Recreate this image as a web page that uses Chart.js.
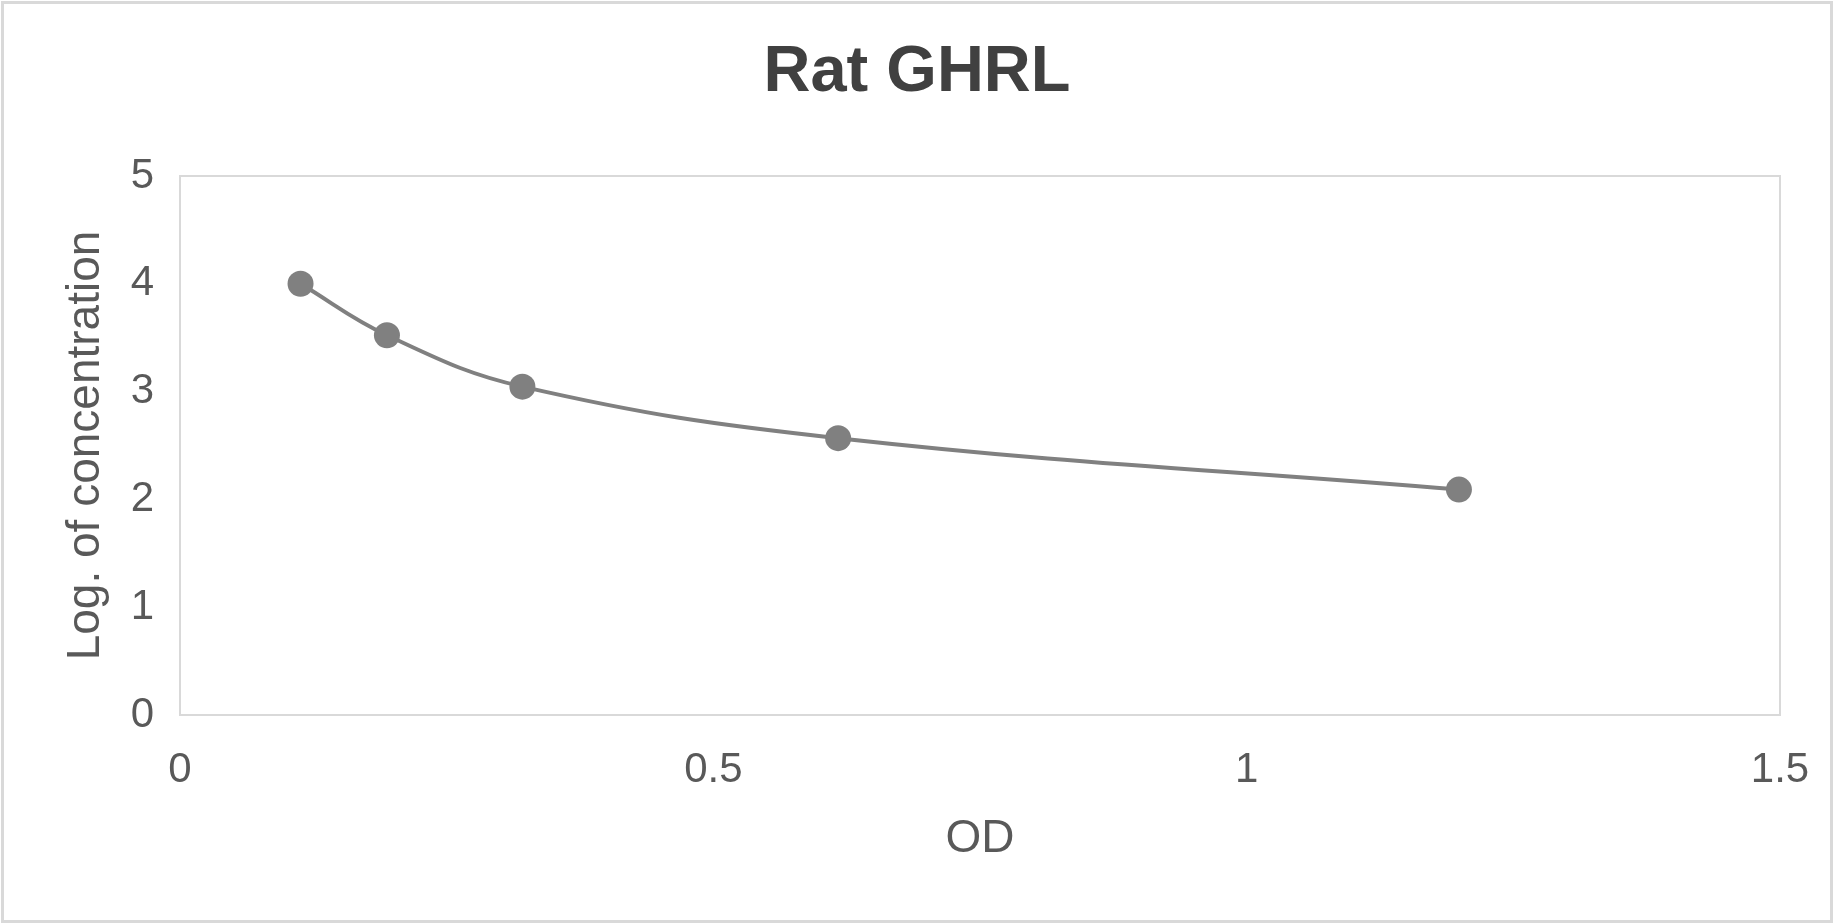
<!DOCTYPE html>
<html>
<head>
<meta charset="utf-8">
<script src="https://cdn.jsdelivr.net/npm/chart.js@4/dist/chart.umd.min.js"></script>
<style>
  html, body { margin: 0; padding: 0; background: #ffffff; }
  #wrap { width: 1834px; height: 924px; position: relative; }
</style>
</head>
<body>
<div id="wrap"><canvas id="c" width="1834" height="924"></canvas></div>
<script>
const chartTitle = "Rat GHRL";
const xAxisTitle = "OD";
const yAxisTitle = "Log. of concentration";
const odValues = [0.113, 0.194, 0.321, 0.617, 1.199];
const logConc = [4.000, 3.523, 3.046, 2.568, 2.091];
const xTicks = [0, 0.5, 1, 1.5];
const yTicks = [0, 1, 2, 3, 4, 5];

const points = odValues.map((x, i) => ({ x: x, y: logConc[i] }));

const frame = {
  id: 'frame',
  beforeDraw(chart) {
    const ctx = chart.ctx;
    ctx.save();
    ctx.fillStyle = '#ffffff';
    ctx.fillRect(0, 0, chart.width, chart.height);
    ctx.strokeStyle = '#d9d9d9';
    ctx.lineWidth = 3;
    ctx.strokeRect(2.5, 2.5, chart.width - 5, chart.height - 5);
    const a = chart.chartArea;
    ctx.lineWidth = 2;
    ctx.strokeRect(a.left, a.top, a.right - a.left, a.bottom - a.top);
    ctx.restore();
  }
};

new Chart(document.getElementById('c'), {
  type: 'scatter',
  data: {
    datasets: [{
      label: chartTitle,
      data: points,
      showLine: true,
      borderColor: '#808080',
      backgroundColor: '#808080',
      borderWidth: 4,
      pointRadius: 13,
      pointHoverRadius: 13,
      pointBorderWidth: 0,
      tension: 0.4
    }]
  },
  options: {
    responsive: false,
    animation: false,
    devicePixelRatio: 1,
    layout: { padding: { left: 54, right: 54, top: 0, bottom: 0 } },
    plugins: {
      legend: { display: false },
      tooltip: { enabled: false },
      title: {
        display: true,
        text: chartTitle,
        color: '#404040',
        font: { family: 'Liberation Sans', size: 65, weight: 'bold', lineHeight: 1.2 },
        padding: { top: 34, bottom: 64 }
      }
    },
    scales: {
      x: {
        type: 'linear',
        min: 0, max: 1.5,
        afterBuildTicks: s => { s.ticks = xTicks.map(v => ({ value: v })); },
        afterFit: s => { s.height = 209; s.paddingLeft = 0; s.paddingRight = 0; },
        grid: { display: false, drawTicks: false },
        border: { display: false },
        ticks: {
          color: '#595959',
          padding: 30,
          font: { family: 'Liberation Sans', size: 42 },
          callback: v => String(v)
        },
        title: {
          display: true,
          text: xAxisTitle,
          color: '#595959',
          font: { family: 'Liberation Sans', size: 46 },
          padding: { top: 0, bottom: 57 }
        }
      },
      y: {
        type: 'linear',
        min: 0, max: 5,
        afterBuildTicks: s => { s.ticks = yTicks.map(v => ({ value: v })); },
        afterFit: s => { s.width = 126; },
        grid: { display: false, drawTicks: false },
        border: { display: false },
        ticks: {
          color: '#595959',
          padding: 26,
          font: { family: 'Liberation Sans', size: 42 },
          callback: v => String(v)
        },
        title: {
          display: true,
          text: yAxisTitle,
          color: '#595959',
          font: { family: 'Liberation Sans', size: 46 },
          padding: { top: 5, bottom: 0 }
        }
      }
    }
  },
  plugins: [frame]
});
</script>
</body>
</html>
